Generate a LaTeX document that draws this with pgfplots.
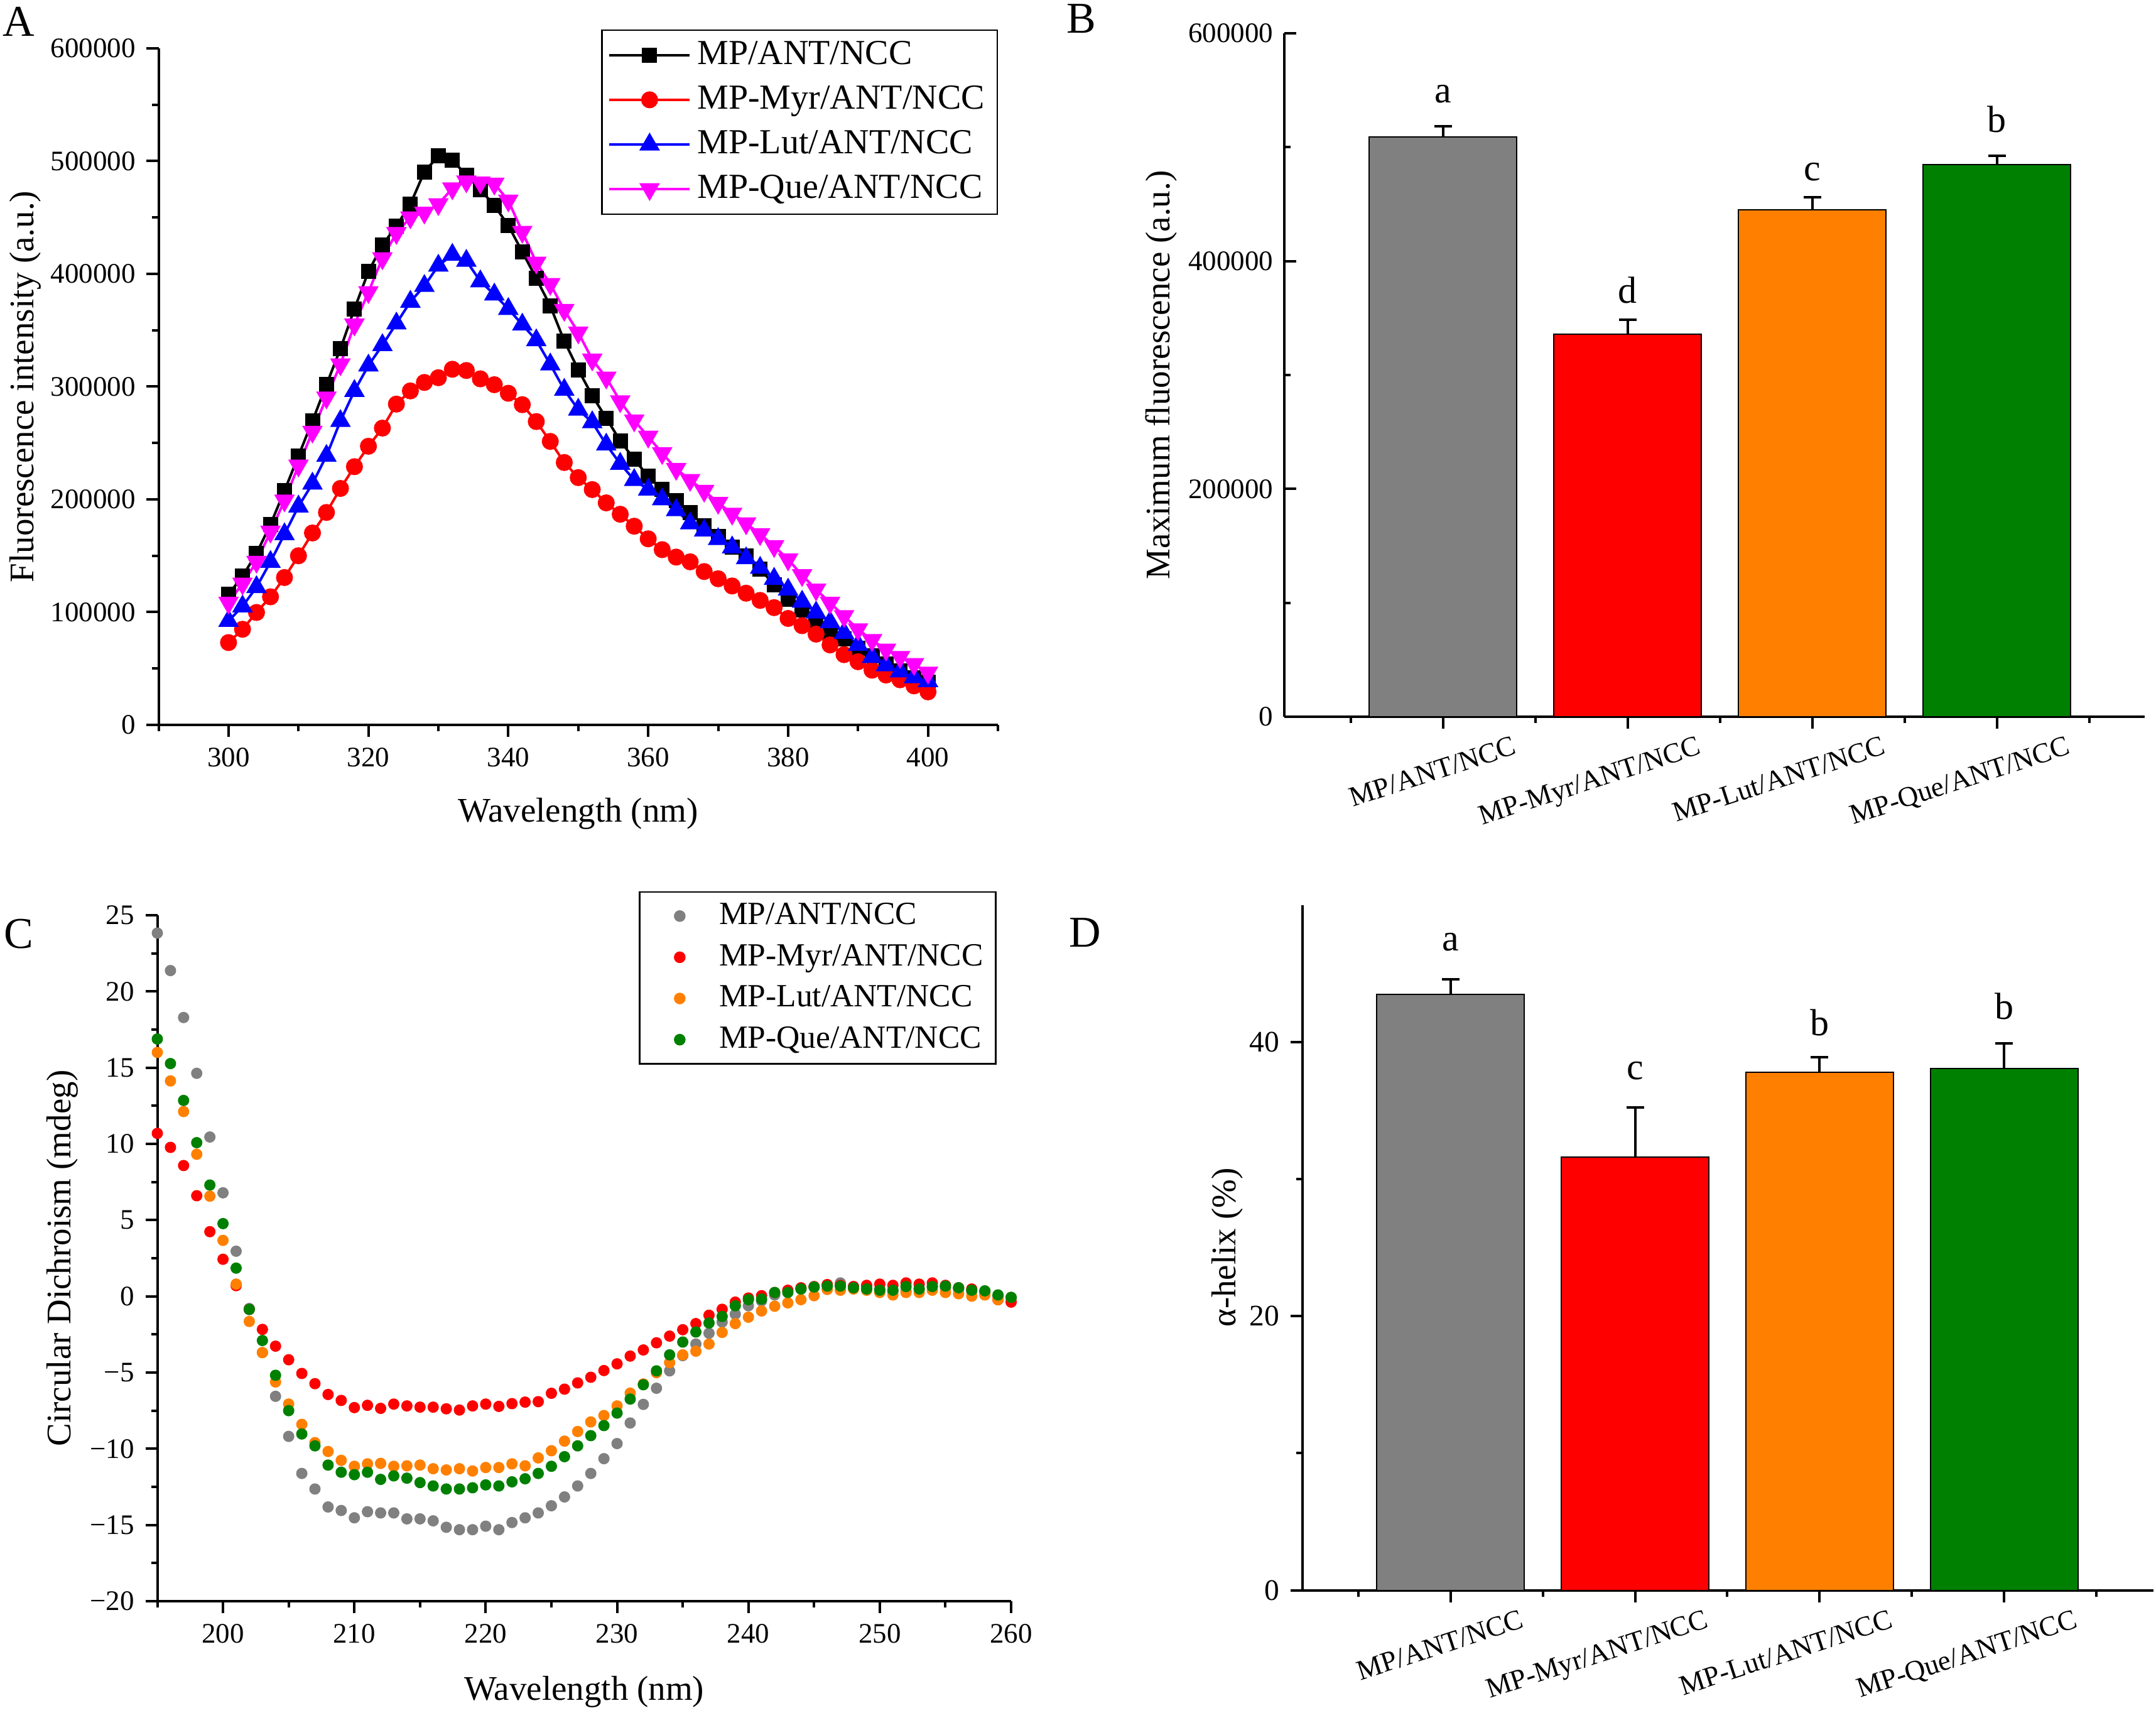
\documentclass[border=0pt]{standalone}
\usepackage{fontspec}
\setmainfont{Liberation Serif}
\usepackage{pgfplots}
\pgfplotsset{compat=1.18}
\definecolor{cgray}{RGB}{128,128,128}
\definecolor{corange}{RGB}{255,128,0}
\definecolor{cgreen}{RGB}{0,128,0}
\definecolor{cblue}{RGB}{0,0,255}
\definecolor{cmag}{RGB}{255,0,255}
\definecolor{cred}{RGB}{255,0,0}

\pgfplotsset{
  myaxis/.style={
    scale only axis,
    axis x line*=bottom, axis y line*=left,
    axis line style={line width=0.8pt, black},
    tick align=outside,
    major tick length=3.8pt, minor tick length=2pt,
    tick style={black, line width=0.8pt},
    tick label style={font=\fontsize{9}{10}\selectfont},
    label style={font=\fontsize{11}{13}\selectfont},
    scaled ticks=false,
    /pgf/number format/assume math mode=true,
    /pgf/number format/fixed,
    /pgf/number format/1000 sep={},
  },
  barcat/.style={
    ybar, bar width=0.8, bar shift=0pt,
    xtick={1,2,3,4},
    xticklabels={MP/ANT/NCC, MP-Myr/ANT/NCC, MP-Lut/ANT/NCC, MP-Que/ANT/NCC},
    minor xtick={0.5,1.5,2.5,3.5,4.5},
    xticklabel style={font=\fontsize{9}{10}\selectfont, inner sep=0pt, xshift=22pt, yshift=-2pt, rotate=18, anchor=north east},
  },
  errb/.style={error bars/.cd, y dir=plus, y explicit,
    error bar style={line width=0.8pt, black},
    error mark options={rotate=90, line width=0.8pt, mark size=2.8pt, black}},
}

\begin{document}
\begin{tikzpicture}
\useasboundingbox (0,0) rectangle (686.6pt,545.2pt);

% ---------------- Panel A ----------------
\begin{axis}[myaxis,
  at={(50.5pt,314.4pt)}, anchor=south west,
  width=267.3pt, height=215.4pt,
  xmin=290, xmax=410, ymin=0, ymax=600000,
  xtick={300,320,...,400}, minor xtick={290,310,...,410},
  ytick={0,100000,...,600000}, minor ytick={50000,150000,...,550000},
  xlabel={Wavelength (nm)}, ylabel={Fluorescence intensity (a.u.)},
  xlabel style={at={(axis description cs:0.5,-0.131)}, anchor=center},
  ylabel style={at={(axis description cs:-0.159,0.5)}, anchor=center},
  legend style={at={(1,1.028)}, anchor=north east, font=\fontsize{11.2}{13}\selectfont,
    draw=black, line width=0.5pt, inner xsep=2pt, inner ysep=1.5pt, row sep=1.3pt},
  legend cell align=left,
  legend image code/.code={\draw[mark repeat=2,mark phase=2,#1] plot coordinates {(0cm,0cm) (0.45cm,0cm) (0.9cm,0cm)};},
]
\addplot[black, line width=0.8pt, mark=square*, mark size=2pt] coordinates {
(300,115800)(302,131800)(304,152100)(306,177800)(308,207600)(310,238600)(312,269500)(314,301700)(316,333600)(318,368900)
(320,402000)(322,425500)(324,442500)(326,461800)(328,490500)(330,504500)(332,500900)(334,487500)(336,474600)(338,460700)
(340,443000)(342,419500)(344,396000)(346,371500)(348,340500)(350,315000)(352,292000)(354,272000)(356,252000)(358,235500)
(360,220400)(362,208700)(364,199000)(366,188400)(368,176700)(370,167000)(372,157400)(374,150000)(376,138200)(378,124300)
(380,111500)(382,101900)(384,92400)(386,82600)(388,76200)(390,68000)(392,61000)(394,54000)(396,48000)(398,42000)(400,38000)};
\addlegendentry{MP/ANT/NCC}
\addplot[cred, line width=0.8pt, mark=*, mark size=2.3pt] coordinates {
(300,73000)(302,84800)(304,99700)(306,113600)(308,130700)(310,150000)(312,170200)(314,188400)(316,209700)(318,229000)
(320,247100)(322,263200)(324,284500)(326,296200)(328,303700)(330,307900)(332,315400)(334,314300)(336,306900)(338,301700)
(340,294100)(342,284000)(344,269000)(346,251400)(348,232700)(350,219300)(352,208700)(354,196900)(356,186800)(358,176200)
(360,165000)(362,155400)(364,148800)(366,144600)(368,136000)(370,129600)(372,123200)(374,116800)(376,110400)(378,104000)
(380,94400)(382,88000)(384,80500)(386,70900)(388,62300)(390,56000)(392,48500)(394,44200)(396,40000)(398,34600)(400,29300)};
\addlegendentry{MP-Myr/ANT/NCC}
\addplot[cblue, line width=0.8pt, mark=triangle*, mark size=3pt] coordinates {
(300,92200)(302,105100)(304,122200)(306,144600)(308,169100)(310,193700)(312,214000)(314,238600)(316,269500)(318,296200)
(320,318700)(322,336800)(324,356000)(326,375300)(328,389300)(330,407300)(332,416900)(334,411600)(336,393400)(338,381700)
(340,368900)(342,355000)(344,341100)(346,319700)(348,297200)(350,279600)(352,268400)(354,248600)(356,231600)(358,217200)
(360,208700)(362,200100)(364,190500)(366,178700)(368,172300)(370,164800)(372,157400)(374,147800)(376,139300)(378,129600)
(380,120000)(382,109300)(384,99700)(386,91200)(388,81600)(390,70900)(392,60200)(394,52800)(396,47400)(398,42200)(400,38800)};
\addlegendentry{MP-Lut/ANT/NCC}
\addplot[cmag, line width=0.8pt, mark=triangle*, mark size=3pt, mark options={rotate=180}] coordinates {
(300,108300)(302,125300)(304,144600)(306,171300)(308,199000)(310,230000)(312,260000)(314,290300)(316,319700)(318,355000)
(320,383800)(322,413800)(324,436200)(326,450100)(328,454300)(330,461800)(332,475800)(334,482000)(336,481000)(338,480000)
(340,465000)(342,437300)(344,410000)(346,391000)(348,368000)(350,348000)(352,324000)(354,308000)(356,287000)(358,270000)
(360,255600)(362,241000)(364,227000)(366,217200)(368,207600)(370,196900)(372,187300)(374,178700)(376,169100)(378,158500)
(380,146700)(382,132800)(384,120000)(386,108300)(388,96500)(390,84800)(392,75200)(394,66700)(396,60200)(398,53900)(400,46300)};
\addlegendentry{MP-Que/ANT/NCC}
\end{axis}

% ---------------- Panel B ----------------
\begin{axis}[myaxis, barcat,
  at={(409pt,317pt)}, anchor=south west,
  width=274pt, height=217.6pt,
  ytick align=inside,
  xmin=0.14, xmax=4.8, ymin=0, ymax=600000,
  ytick={0,200000,400000,600000}, minor ytick={100000,300000,500000},
  ylabel={Maximum fluorescence (a.u.)},
  ylabel style={at={(axis description cs:-0.143,0.5)}, anchor=center},
]
\addplot[fill=cgray, draw=black, line width=0.4pt, errb] coordinates {(1,509100) +- (0,9000)};
\addplot[fill=cred, draw=black, line width=0.4pt, errb] coordinates {(2,336100) +- (0,12200)};
\addplot[fill=corange, draw=black, line width=0.4pt, errb] coordinates {(3,445000) +- (0,10800)};
\addplot[fill=cgreen, draw=black, line width=0.4pt, errb] coordinates {(4,484600) +- (0,8000)};
\node[font=\fontsize{12}{14}\selectfont] at (axis cs:1,546800) {a};
\node[font=\fontsize{12}{14}\selectfont] at (axis cs:2,374700) {d};
\node[font=\fontsize{12}{14}\selectfont] at (axis cs:3,478400) {c};
\node[font=\fontsize{12}{14}\selectfont] at (axis cs:4,524600) {b};
\end{axis}

% ---------------- Panel C ----------------
\begin{axis}[myaxis,
  at={(50.1pt,35.4pt)}, anchor=south west,
  width=271.9pt, height=218.4pt,
  xmin=195, xmax=260, ymin=-20, ymax=25,
  xtick={200,210,...,260}, minor xtick={195,205,...,255},
  ytick={-20,-15,...,25}, yticklabels={−20,−15,−10,−5,0,5,10,15,20,25},
  minor ytick={-17.5,-12.5,...,22.5},
  xlabel={Wavelength (nm)}, ylabel={Circular Dichroism (mdeg)},
  xlabel style={at={(axis description cs:0.5,-0.132)}, anchor=center},
  ylabel style={at={(axis description cs:-0.111,0.5)}, anchor=center},
  legend style={at={(0.983,1.035)}, anchor=north east, font=\fontsize{10.3}{12}\selectfont,
    draw=black, line width=0.5pt, inner xsep=2pt, inner ysep=1.5pt, row sep=0.8pt},
  legend cell align=left,
  legend image code/.code={\path[draw=none,fill=none] (0cm,0cm) -- (0.75cm,0cm); \draw[#1] plot coordinates {(0.38cm,0cm)};},
]
\addplot[only marks, mark=*, mark size=1.6pt, color=cgray] coordinates {
(195,23.83)(196,21.37)(197,18.29)(198,14.63)(199,10.45)(200,6.79)(201,2.96)(202,-0.8)(203,-3.69)(204,-6.56)
(205,-9.19)(206,-11.62)(207,-12.64)(208,-13.82)(209,-14.05)(210,-14.53)(211,-14.13)(212,-14.21)(213,-14.21)(214,-14.6)
(215,-14.6)(216,-14.73)(217,-15.15)(218,-15.31)(219,-15.31)(220,-15.08)(221,-15.31)(222,-14.84)(223,-14.53)(224,-14.21)
(225,-13.74)(226,-13.16)(227,-12.44)(228,-11.62)(229,-10.65)(230,-9.66)(231,-8.31)(232,-7.09)(233,-6.03)(234,-4.89)
(235,-3.89)(236,-3.13)(237,-2.42)(238,-1.69)(239,-1.17)(240,-0.62)(241,-0.3)(242,0.09)(243,0.33)(244,0.48)
(245,0.61)(246,0.72)(247,0.88)(248,0.64)(249,0.56)(250,0.48)(251,0.33)(252,0.33)(253,0.48)(254,0.64)
(255,0.56)(256,0.48)(257,0.33)(258,0.25)(259,0.01)(260,-0.14)};
\addlegendentry{MP/ANT/NCC}
\addplot[only marks, mark=*, mark size=1.6pt, color=cred] coordinates {
(195,10.69)(196,9.77)(197,8.58)(198,6.6)(199,4.24)(200,2.43)(201,0.7)(202,-0.86)(203,-2.17)(204,-3.27)
(205,-4.16)(206,-5.06)(207,-5.73)(208,-6.44)(209,-6.83)(210,-7.3)(211,-7.15)(212,-7.35)(213,-7.07)(214,-7.19)
(215,-7.27)(216,-7.27)(217,-7.38)(218,-7.46)(219,-7.19)(220,-7.07)(221,-7.22)(222,-7.04)(223,-6.94)(224,-6.91)
(225,-6.36)(226,-6.09)(227,-5.68)(228,-5.31)(229,-4.87)(230,-4.43)(231,-3.92)(232,-3.52)(233,-3.05)(234,-2.61)
(235,-2.19)(236,-1.79)(237,-1.24)(238,-0.85)(239,-0.38)(240,-0.11)(241,0.04)(242,0.25)(243,0.4)(244,0.56)
(245,0.64)(246,0.77)(247,0.72)(248,0.64)(249,0.72)(250,0.8)(251,0.72)(252,0.88)(253,0.8)(254,0.88)
(255,0.72)(256,0.56)(257,0.48)(258,0.33)(259,-0.22)(260,-0.38)};
\addlegendentry{MP-Myr/ANT/NCC}
\addplot[only marks, mark=*, mark size=1.6pt, color=corange] coordinates {
(195,16.0)(196,14.13)(197,12.12)(198,9.32)(199,6.57)(200,3.67)(201,0.8)(202,-1.65)(203,-3.69)(204,-5.62)
(205,-7.07)(206,-8.4)(207,-9.6)(208,-10.18)(209,-10.76)(210,-11.15)(211,-10.99)(212,-10.96)(213,-11.15)(214,-11.12)
(215,-11.07)(216,-11.31)(217,-11.39)(218,-11.31)(219,-11.46)(220,-11.23)(221,-11.23)(222,-10.99)(223,-11.12)(224,-10.6)
(225,-10.13)(226,-9.5)(227,-8.87)(228,-8.24)(229,-7.82)(230,-7.19)(231,-6.35)(232,-5.75)(233,-5.01)(234,-4.35)
(235,-3.84)(236,-3.6)(237,-3.13)(238,-2.37)(239,-1.79)(240,-1.37)(241,-0.96)(242,-0.65)(243,-0.43)(244,-0.22)
(245,0.04)(246,0.45)(247,0.4)(248,0.48)(249,0.4)(250,0.25)(251,0.09)(252,0.25)(253,0.25)(254,0.4)
(255,0.25)(256,0.17)(257,0.01)(258,0.09)(259,-0.22)(260,-0.07)};
\addlegendentry{MP-Lut/ANT/NCC}
\addplot[only marks, mark=*, mark size=1.6pt, color=cgreen] coordinates {
(195,16.88)(196,15.27)(197,12.85)(198,10.08)(199,7.3)(200,4.77)(201,1.85)(202,-0.86)(203,-2.9)(204,-5.18)
(205,-7.5)(206,-9.03)(207,-9.81)(208,-11.07)(209,-11.54)(210,-11.7)(211,-11.54)(212,-12.01)(213,-11.78)(214,-11.93)
(215,-12.22)(216,-12.44)(217,-12.64)(218,-12.64)(219,-12.56)(220,-12.37)(221,-12.44)(222,-12.17)(223,-11.97)(224,-11.62)
(225,-11.15)(226,-10.52)(227,-9.81)(228,-9.14)(229,-8.48)(230,-7.66)(231,-6.74)(232,-5.8)(233,-4.89)(234,-3.84)
(235,-3.0)(236,-2.34)(237,-1.75)(238,-1.32)(239,-0.62)(240,-0.22)(241,-0.18)(242,0.25)(243,0.25)(244,0.48)
(245,0.61)(246,0.67)(247,0.67)(248,0.56)(249,0.48)(250,0.4)(251,0.4)(252,0.64)(253,0.48)(254,0.64)
(255,0.67)(256,0.56)(257,0.4)(258,0.36)(259,0.09)(260,-0.07)};
\addlegendentry{MP-Que/ANT/NCC}
\end{axis}

% ---------------- Panel D ----------------
\begin{axis}[myaxis, barcat,
  at={(414.7pt,38.9pt)}, anchor=south west,
  width=271.1pt, height=218.2pt,
  xmin=0.196, xmax=4.81, ymin=0, ymax=50,
  ytick={0,20,40}, minor ytick={10,30},
  yticklabel style={font=\fontsize{9.5}{11}\selectfont},
  ylabel={α-helix (\%)},
  ylabel style={at={(axis description cs:-0.088,0.5)}, anchor=center},
]
\addplot[fill=cgray, draw=black, line width=0.4pt, errb] coordinates {(1,43.49) +- (0,1.1)};
\addplot[fill=cred, draw=black, line width=0.4pt, errb] coordinates {(2,31.6) +- (0,3.6)};
\addplot[fill=corange, draw=black, line width=0.4pt, errb] coordinates {(3,37.8) +- (0,1.1)};
\addplot[fill=cgreen, draw=black, line width=0.4pt, errb] coordinates {(4,38.05) +- (0,1.85)};
\node[font=\fontsize{12}{14}\selectfont] at (axis cs:1,47.3) {a};
\node[font=\fontsize{12}{14}\selectfont] at (axis cs:2,37.9) {c};
\node[font=\fontsize{12}{14}\selectfont] at (axis cs:3,41.4) {b};
\node[font=\fontsize{12}{14}\selectfont] at (axis cs:4,42.6) {b};
\end{axis}

% panel letters
\node[font=\fontsize{14}{16}\selectfont] at (5.9pt,538.4pt) {A};
\node[font=\fontsize{14}{16}\selectfont] at (344.4pt,539.2pt) {B};
\node[font=\fontsize{14}{16}\selectfont] at (5.9pt,247.8pt) {C};
\node[font=\fontsize{14}{16}\selectfont] at (345.5pt,248.3pt) {D};
\end{tikzpicture}
\end{document}
